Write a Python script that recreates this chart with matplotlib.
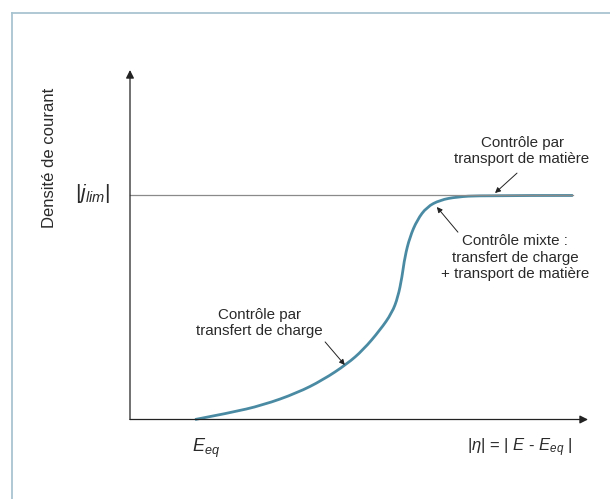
import numpy as np
import matplotlib
matplotlib.use('Agg')
import matplotlib.pyplot as plt
from matplotlib.lines import Line2D
from matplotlib.path import Path
from matplotlib.patches import PathPatch

plt.rcParams['font.family'] = ['Liberation Sans', 'DejaVu Sans']
plt.rcParams['mathtext.fontset'] = 'custom'
plt.rcParams['mathtext.rm'] = 'Liberation Sans'
plt.rcParams['mathtext.it'] = 'Liberation Sans:italic'

# curve (arbitrary units, axis spans 0..100)
eta = [14.2, 21.8, 29.0, 36.5, 42.1, 47.4, 50.9, 54.6, 57.2, 58.5, 59.4,
       60.0, 61.1, 62.7, 64.8, 67.7, 71.4, 76.4, 96.7]
j = [0.0, 1.9, 4.1, 7.6, 11.3, 15.9, 19.9, 25.6, 30.5, 35.0, 40.8,
     46.5, 52.2, 57.1, 60.8, 62.8, 63.7, 64.1, 64.1]
j_lim = 64.2

txt_col = '#2a2a2a'
curve_col = '#4A8BA3'

fig = plt.figure(figsize=(6.10, 4.99), dpi=100)

# light frame around the figure
fig.add_artist(Line2D([12/610, 1], [1 - 13/499, 1 - 13/499], color='#A8C4D1', lw=1.3))
fig.add_artist(Line2D([12/610, 12/610], [0, 1 - 13/499], color='#A8C4D1', lw=1.3))

ax = fig.add_axes([130/610, 79.5/499, 458/610, 349.5/499])
ax.set_xlim(0, 100)
ax.set_ylim(0, 100)
ax.axis('off')

# axes with arrows
arr = dict(arrowstyle='-|>', color='#222222', lw=0.9, mutation_scale=12,
           shrinkA=0, shrinkB=0)
ax.annotate('', xy=(1, 0), xytext=(0, 0), xycoords='axes fraction', arrowprops=arr)
ax.annotate('', xy=(0, 1), xytext=(0, 0), xycoords='axes fraction', arrowprops=arr)

# limit current line
ax.plot([0, eta[-1]], [j_lim, j_lim], color='#8a8a8a', lw=0.9, clip_on=False)

# smooth the read points with quadratic bezier segments (points act as controls)
pts = list(zip(eta, j))
verts = [pts[0]]
codes = [Path.MOVETO]
for k in range(1, len(pts) - 1):
    mid = ((pts[k][0] + pts[k + 1][0]) / 2, (pts[k][1] + pts[k + 1][1]) / 2)
    if k == len(pts) - 2:
        mid = pts[-1]
    verts += [pts[k], mid]
    codes += [Path.CURVE3, Path.CURVE3]
ax.add_patch(PathPatch(Path(verts, codes), facecolor='none', edgecolor=curve_col,
                       lw=2.0, clip_on=False, capstyle='butt'))

ax.text(-17.5, 75, 'Densité de courant', rotation=90, ha='center', va='center',
        fontsize=12, color=txt_col)
ax.text(-8.2, 64.8, r'|$j_{lim}$|', ha='center', va='center', fontsize=15, color=txt_col)
ax.text(16.5, -8.2, r'$E_{eq}$', ha='center', va='center', fontsize=13, color=txt_col)
ax.text(85.0, -8.2, r'|$\eta$| = | $E$ - $E_{eq}$ |', ha='center', va='center',
        fontsize=12, color=txt_col)

small = dict(arrowstyle='-|>', color='#222222', lw=0.7, mutation_scale=8,
             shrinkA=0, shrinkB=0)
fs = 10.9
ax.text(85.6, 76.8, 'Contrôle par\ntransport de matière', ha='center', va='center',
        fontsize=fs, color=txt_col, linespacing=1.15)
ax.annotate('', xy=(79.7, 64.8), xytext=(84.5, 70.5), arrowprops=small)

ax.text(84.1, 46.3, 'Contrôle mixte :\ntransfert de charge\n+ transport de matière',
        ha='center', va='center', fontsize=fs, color=txt_col, linespacing=1.22)
ax.annotate('', xy=(67.0, 60.8), xytext=(71.6, 53.6), arrowprops=small)

ax.text(28.2, 27.6, 'Contrôle par\ntransfert de charge', ha='center', va='center',
        fontsize=fs, color=txt_col, linespacing=1.15)
ax.annotate('', xy=(46.9, 15.6), xytext=(42.6, 22.2), arrowprops=small)

plt.savefig('out.png', dpi=100)
